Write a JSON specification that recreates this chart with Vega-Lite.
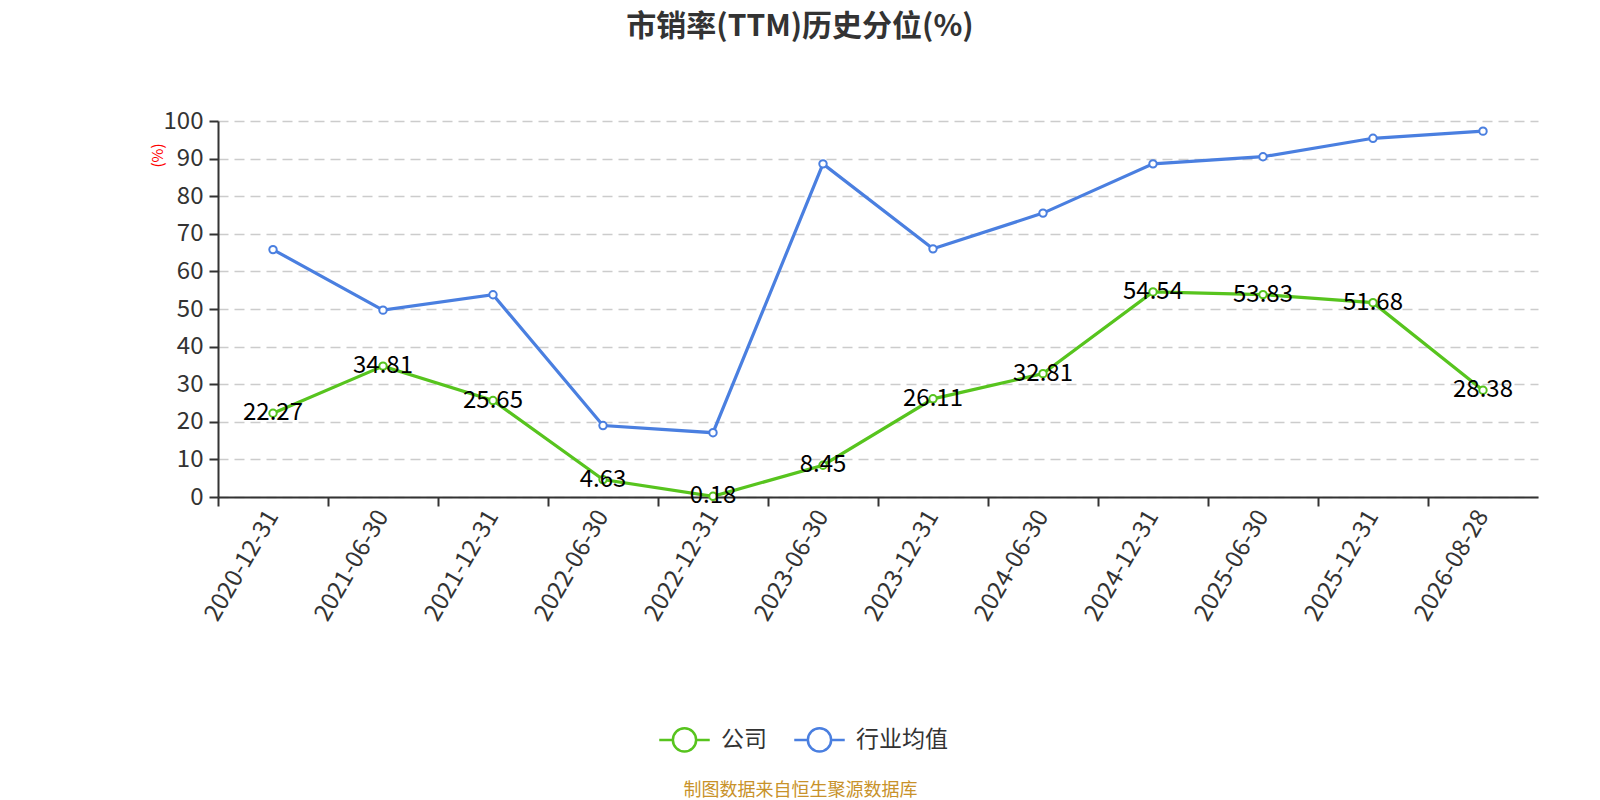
{
  "$schema": "https://vega.github.io/schema/vega-lite/v6.json",
  "autosize": "none",
  "width": 1320,
  "height": 376,
  "padding": {"left": 218, "top": 121, "right": 62, "bottom": 303},
  "background": "white",
  "title": {
    "text": "市销率(TTM)历史分位(%)",
    "font": "Noto Sans CJK SC",
    "fontSize": 30,
    "fontWeight": "bold",
    "color": "#333333",
    "anchor": "middle",
    "frame": "group",
    "dx": -78,
    "offset": 67
  },
  "data": {
    "values": [
      {"date": "2020-12-31", "series": "公司", "value": 22.27},
      {"date": "2021-06-30", "series": "公司", "value": 34.81},
      {"date": "2021-12-31", "series": "公司", "value": 25.65},
      {"date": "2022-06-30", "series": "公司", "value": 4.63},
      {"date": "2022-12-31", "series": "公司", "value": 0.18},
      {"date": "2023-06-30", "series": "公司", "value": 8.45},
      {"date": "2023-12-31", "series": "公司", "value": 26.11},
      {"date": "2024-06-30", "series": "公司", "value": 32.81},
      {"date": "2024-12-31", "series": "公司", "value": 54.54},
      {"date": "2025-06-30", "series": "公司", "value": 53.83},
      {"date": "2025-12-31", "series": "公司", "value": 51.68},
      {"date": "2026-08-28", "series": "公司", "value": 28.38},
      {"date": "2020-12-31", "series": "行业均值", "value": 65.8},
      {"date": "2021-06-30", "series": "行业均值", "value": 49.7},
      {"date": "2021-12-31", "series": "行业均值", "value": 53.8},
      {"date": "2022-06-30", "series": "行业均值", "value": 19.0},
      {"date": "2022-12-31", "series": "行业均值", "value": 17.1},
      {"date": "2023-06-30", "series": "行业均值", "value": 88.6},
      {"date": "2023-12-31", "series": "行业均值", "value": 66.0},
      {"date": "2024-06-30", "series": "行业均值", "value": 75.5},
      {"date": "2024-12-31", "series": "行业均值", "value": 88.6},
      {"date": "2025-06-30", "series": "行业均值", "value": 90.5},
      {"date": "2025-12-31", "series": "行业均值", "value": 95.4},
      {"date": "2026-08-28", "series": "行业均值", "value": 97.3}
    ]
  },
  "encoding": {
    "x": {
      "field": "date",
      "type": "nominal",
      "sort": null,
      "scale": {"type": "band", "paddingInner": 0, "paddingOuter": 0},
      "axis": {
        "title": "制图数据来自恒生聚源数据库",
        "titleColor": "#c8922a",
        "titleFont": "Noto Sans CJK SC",
        "titleFontSize": 18,
        "titleFontWeight": "normal",
        "titleX": 582,
        "titleY": 293,
        "titleAnchor": "middle",
        "titleAlign": "center",
        "titleBaseline": "middle",
        "bandPosition": 0,
        "labelAngle": -60,
        "labelAlign": "right",
        "labelBaseline": "middle",
        "labelFont": "Noto Sans CJK SC",
        "labelFontSize": 24,
        "labelColor": "#333333",
        "labelPadding": 6,
        "domainColor": "#333333",
        "domainWidth": 2,
        "tickColor": "#333333",
        "tickWidth": 2,
        "tickSize": 9,
        "grid": false
      }
    },
    "y": {
      "field": "value",
      "type": "quantitative",
      "scale": {"domain": [0, 100], "nice": false},
      "axis": {
        "title": "(%)",
        "titleColor": "red",
        "titleFont": "Noto Sans CJK SC",
        "titleFontSize": 15,
        "titleFontWeight": "normal",
        "titleX": -61,
        "titleY": 34,
        "titleAlign": "center",
        "titleBaseline": "middle",
        "values": [0, 10, 20, 30, 40, 50, 60, 70, 80, 90, 100],
        "labelFont": "Noto Sans CJK SC",
        "labelFontSize": 24,
        "labelColor": "#333333",
        "labelPadding": 6,
        "domainColor": "#333333",
        "domainWidth": 2,
        "tickColor": "#333333",
        "tickWidth": 2,
        "tickSize": 9,
        "grid": true,
        "gridColor": "#cccccc",
        "gridDash": [10, 6],
        "gridWidth": 1.6
      }
    },
    "color": {
      "field": "series",
      "type": "nominal",
      "scale": {"domain": ["公司", "行业均值"], "range": ["#57c41e", "#4a7fe0"]},
      "legend": {
        "title": null,
        "orient": "none",
        "direction": "horizontal",
        "legendX": 440,
        "legendY": 592,
        "symbolType": "M-1,0L-0.46,0M0.46,0L1,0M0.46,0A0.46,0.46,0,1,1,-0.46,0A0.46,0.46,0,1,1,0.46,0",
        "symbolSize": 2550,
        "symbolStrokeWidth": 2.5,
        "symbolFillColor": "white",
        "labelFont": "Noto Sans CJK SC",
        "labelFontSize": 23,
        "labelColor": "#333333",
        "labelOffset": 10,
        "columnPadding": 22
      }
    }
  },
  "layer": [
    {"mark": {"type": "line", "strokeWidth": 3.2}},
    {"mark": {"type": "point", "filled": false, "fill": "white", "size": 55, "strokeWidth": 2, "opacity": 1}},
    {
      "transform": [{"filter": "datum.series === '公司'"}],
      "mark": {"type": "text", "font": "Noto Sans CJK SC", "fontSize": 24, "align": "center", "baseline": "middle", "color": "black"},
      "encoding": {
        "text": {"field": "value", "type": "quantitative", "format": ".2f"},
        "color": {"value": "black"}
      }
    }
  ],
  "config": {"view": {"stroke": null}}
}
